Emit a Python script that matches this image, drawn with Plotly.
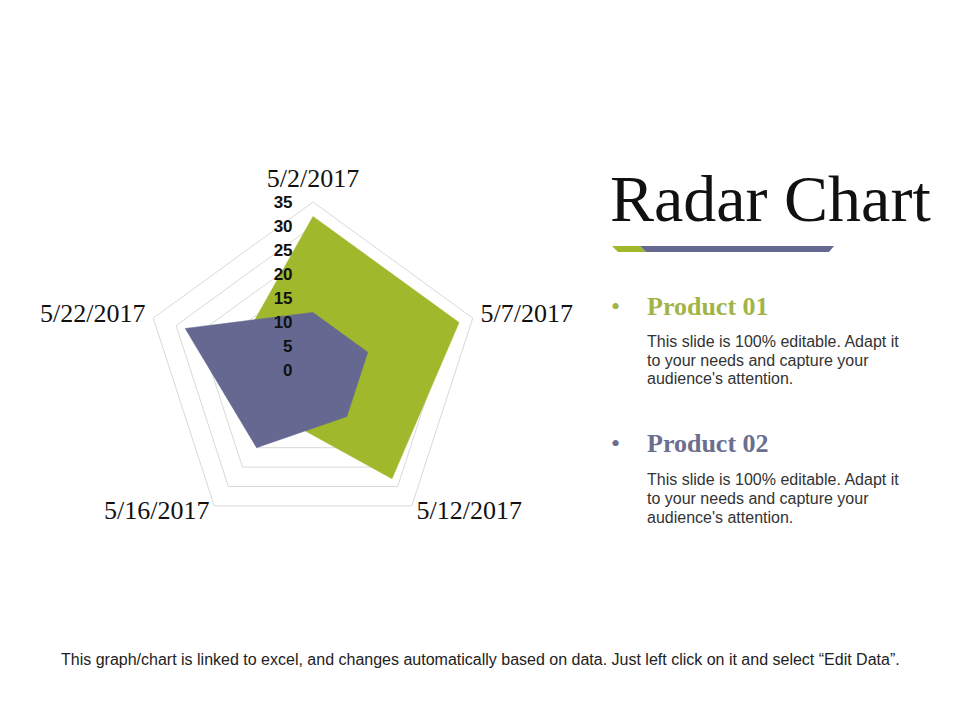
import plotly.graph_objects as go

categories = ["5/2/2017", "5/7/2017", "5/12/2017", "5/16/2017", "5/22/2017"]
product_01 = [32, 32, 28, 12, 16]
product_02 = [12, 12, 12, 20, 28]
radial_ticks = [0, 5, 10, 15, 20, 25, 30, 35]

GREEN = "#a0b82c"
BLUE = "#656991"
R_MAX = 35
LABEL_R = R_MAX * 1.048  # category labels sit just outside the outer ring

fig = go.Figure()
fig.add_trace(go.Scatterpolar(
    r=product_01 + product_01[:1], theta=categories + categories[:1],
    mode="lines", fill="toself", fillcolor=GREEN,
    line=dict(color=GREEN, width=0.5), name="Product 01"))
fig.add_trace(go.Scatterpolar(
    r=product_02 + product_02[:1], theta=categories + categories[:1],
    mode="lines", fill="toself", fillcolor=BLUE,
    line=dict(color=BLUE, width=0.5), name="Product 02"))
fig.add_trace(go.Scatterpolar(
    r=[LABEL_R] * len(categories), theta=categories, text=categories, mode="text",
    textposition=["top center", "middle right", "middle right", "middle left", "middle left"],
    textfont=dict(family="Liberation Serif", size=26, color="#111111"),
    cliponaxis=False, hoverinfo="skip", showlegend=False))

W, H = 960, 720
OX, OY = 8, 8  # page body margin offset


def px(x):
    return (x - OX) / W


def py(y):
    return 1 - (y - OY) / H


cx, cy = 313, 370
R = 168 * LABEL_R / R_MAX
fig.update_layout(
    width=W, height=H, margin=dict(l=0, r=0, t=0, b=0),
    paper_bgcolor="white", plot_bgcolor="white", showlegend=False,
    polar=dict(
        domain=dict(x=[px(cx - R), px(cx + R)], y=[py(cy + R), py(cy - R)]),
        bgcolor="white", gridshape="linear",
        radialaxis=dict(range=[0, LABEL_R], tickvals=radial_ticks, angle=90, tickangle=90,
                        side="counterclockwise", showline=False,
                        ticks="outside", ticklen=14, tickcolor="rgba(0,0,0,0)",
                        gridcolor="#d9d9d9", gridwidth=1,
                        tickfont=dict(family="Liberation Sans", size=17, color="#111111",
                                      weight="bold")),
        angularaxis=dict(rotation=90, direction="clockwise", showgrid=False,
                         showline=False, ticks="", showticklabels=False),
    ),
)

fig.add_annotation(x=px(608), y=py(203 - 4), xref="paper", yref="paper", xanchor="left",
                   yanchor="middle", showarrow=False, text="Radar Chart",
                   font=dict(family="Liberation Serif", size=66, color="#111111"))
# decorative underline
fig.add_shape(type="path", xref="paper", yref="paper",
              path=f"M {px(612)} {py(246)} L {px(640)} {py(246)} L {px(646)} {py(252)} L {px(618)} {py(252)} Z",
              fillcolor=GREEN, line=dict(width=0))
fig.add_shape(type="path", xref="paper", yref="paper",
              path=f"M {px(640)} {py(246)} L {px(834)} {py(246)} L {px(829)} {py(252)} L {px(646)} {py(252)} Z",
              fillcolor=BLUE, line=dict(width=0))

desc_lines = ["This slide is 100% editable. Adapt it", "to your needs and capture your",
              "audience's attention."]
for name, color, ty in [("Product 01", "#a2b447", 306), ("Product 02", "#6b6e8f", 444)]:
    fig.add_annotation(x=px(609), y=py(ty), xref="paper", yref="paper", xanchor="left",
                       yanchor="middle", showarrow=False, text="•",
                       font=dict(family="Liberation Serif", size=26, color=color))
    fig.add_annotation(x=px(645), y=py(ty), xref="paper", yref="paper", xanchor="left",
                       yanchor="middle", showarrow=False, text=f"<b>{name}</b>",
                       font=dict(family="Liberation Serif", size=26, color=color))
    for i, line in enumerate(desc_lines):
        fig.add_annotation(x=px(645), y=py(ty + 35 + 19 * i), xref="paper", yref="paper",
                           xanchor="left", yanchor="middle", showarrow=False, text=line,
                           font=dict(family="Liberation Sans", size=16, color="#333333"))

fig.add_annotation(x=px(480), y=py(659), xref="paper", yref="paper", xanchor="center",
                   yanchor="middle", showarrow=False,
                   text="This graph/chart is linked to excel, and changes automatically based on data. Just left click on it and select “Edit Data”.",
                   font=dict(family="Liberation Sans", size=16, color="#222222"))

fig.write_html("out.html")
